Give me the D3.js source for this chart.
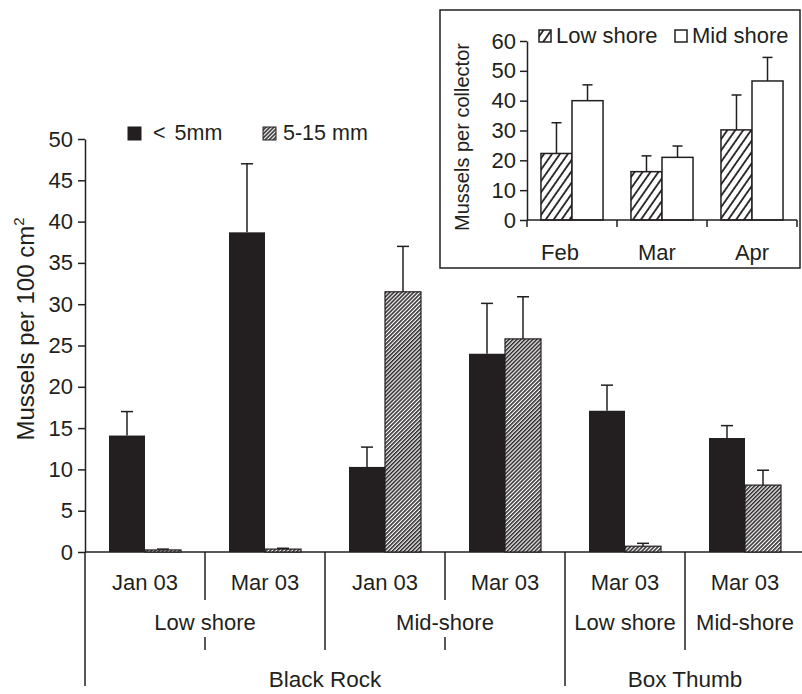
<!DOCTYPE html>
<html>
<head>
<meta charset="utf-8">
<script src="https://cdn.jsdelivr.net/npm/d3@7"></script>
<style>
  body { margin: 0; background: #fff; }
  svg text { font-family: "Liberation Sans", Arial, Helvetica, sans-serif; fill: #231f20; }
</style>
</head>
<body>
<script>
/* main chart data */
var dates  = ["Jan 03", "Mar 03", "Jan 03", "Mar 03", "Mar 03", "Mar 03"]
var shores = ["Low shore", "Low shore", "Mid-shore", "Mid-shore", "Low shore", "Mid-shore"]
var sites  = ["Black Rock", "Black Rock", "Black Rock", "Black Rock", "Box Thumb", "Box Thumb"]
var smallMean = [14.1, 38.7, 10.3, 24.0, 17.1, 13.8]    // < 5mm
var smallSe   = [2.9, 8.3, 2.4, 6.1, 3.1, 1.5]
var largeMean = [0.25, 0.35, 31.5, 25.8, 0.7, 8.1]    // 5-15 mm
var largeSe   = [0.1, 0.1, 5.5, 5.1, 0.35, 1.8]
var mainTicks = [0, 5, 10, 15, 20, 25, 30, 35, 40, 45, 50]
var sizeClasses = ["< 5mm", "5-15 mm"]

/* inset data */
var months  = ["Feb", "Mar", "Apr"]
var lowMean = [22.3, 16.2, 30.2]
var lowSe   = [10.3, 5.3, 11.7]
var midMean = [40.0, 21.0, 46.6]
var midSe   = [5.3, 3.8, 7.9]
var insetTicks = [0, 10, 20, 30, 40, 50, 60]
var shoreClasses = ["Low shore", "Mid shore"]

var ink = "#231f20"
var W = 802, H = 694

var svg = d3.select("body").append("svg")
    .attr("width", W)
    .attr("height", H)

var defs = svg.append("defs")
defs.append("pattern")
    .attr("id", "fine")
    .attr("width", 2.8).attr("height", 2.8)
    .attr("patternUnits", "userSpaceOnUse")
    .attr("patternTransform", "rotate(45)")
  .call(function(p) {
      p.append("rect").attr("width", 2.8).attr("height", 2.8).attr("fill", "#fff")
      p.append("line").attr("x1", 0.8).attr("x2", 0.8).attr("y1", 0).attr("y2", 2.8)
          .attr("stroke", ink).attr("stroke-width", 1.5)
  })
defs.append("pattern")
    .attr("id", "coarse")
    .attr("width", 6.5).attr("height", 6.5)
    .attr("patternUnits", "userSpaceOnUse")
    .attr("patternTransform", "rotate(35)")
  .call(function(p) {
      p.append("rect").attr("width", 6.5).attr("height", 6.5).attr("fill", "#fff")
      p.append("line").attr("x1", 1).attr("x2", 1).attr("y1", 0).attr("y2", 6.5)
          .attr("stroke", ink).attr("stroke-width", 1.8)
  })

/* ---------- main chart ---------- */
var idx = d3.range(dates.length)
var x = d3.scaleBand().domain(idx).range([85, 805])
var xs = d3.scaleBand().domain([0, 1]).range([0, x.bandwidth()]).paddingOuter(0.667)
var y = d3.scaleLinear().domain([0, 50]).range([552, 139])
var fills = [ink, "url(#fine)"]

var yAxis = d3.axisLeft(y).tickValues(mainTicks).tickSize(7).tickSizeOuter(0).tickPadding(5)
var ya = svg.append("g").attr("transform", "translate(85,0)").call(yAxis)
ya.selectAll("path, line").attr("stroke", ink).attr("stroke-width", 1.5)
ya.selectAll("text").attr("font-size", "22px").attr("fill", ink).attr("font-family", null)

/* axis lines */
svg.append("line").attr("x1", 85).attr("x2", 802).attr("y1", y(0)).attr("y2", y(0))
    .attr("stroke", ink).attr("stroke-width", 1.5)

/* group dividers */
idx.forEach(function(i) {
    var xx = x(i)
    var segs
    if (i == 0 || sites[i] != sites[i - 1]) segs = [[552, 686]]
    else if (shores[i] != shores[i - 1]) segs = [[552, 650]]
    else segs = [[552, 600], [637, 650]]
    segs.forEach(function(s) {
        svg.append("line").attr("x1", xx).attr("x2", xx).attr("y1", s[0]).attr("y2", s[1])
            .attr("stroke", ink).attr("stroke-width", 1.5)
    })
})

var series = [
    {mean: smallMean, se: smallSe},
    {mean: largeMean, se: largeSe}
]
series.forEach(function(s, k) {
    var g = svg.append("g")
    g.selectAll("line.err")
        .data(idx).enter().append("line")
        .attr("x1", function(i) { return x(i) + xs(k) + xs.bandwidth() / 2 })
        .attr("x2", function(i) { return x(i) + xs(k) + xs.bandwidth() / 2 })
        .attr("y1", function(i) { return y(s.mean[i]) })
        .attr("y2", function(i) { return y(s.mean[i] + s.se[i]) })
        .attr("stroke", ink).attr("stroke-width", 1.5)
    g.selectAll("line.cap")
        .data(idx).enter().append("line")
        .attr("x1", function(i) { return x(i) + xs(k) + xs.bandwidth() / 2 - 6 })
        .attr("x2", function(i) { return x(i) + xs(k) + xs.bandwidth() / 2 + 6 })
        .attr("y1", function(i) { return y(s.mean[i] + s.se[i]) })
        .attr("y2", function(i) { return y(s.mean[i] + s.se[i]) })
        .attr("stroke", ink).attr("stroke-width", 1.5)
    g.selectAll("rect")
        .data(idx).enter().append("rect")
        .attr("x", function(i) { return x(i) + xs(k) })
        .attr("y", function(i) { return y(s.mean[i]) })
        .attr("width", xs.bandwidth())
        .attr("height", function(i) { return y(0) - y(s.mean[i]) })
        .attr("fill", fills[k])
        .attr("stroke", k == 1 ? ink : "none")
        .attr("stroke-width", 1.2)
})

/* category labels */
svg.selectAll("text.date")
    .data(idx).enter().append("text")
    .attr("x", function(i) { return x(i) + x.bandwidth() / 2 })
    .attr("y", 590)
    .attr("text-anchor", "middle")
    .attr("font-size", "22px")
    .text(function(i) { return dates[i] })

function spans(arr) {
    var out = []
    arr.forEach(function(v, i) {
        var key = sites[i] + "|" + v
        if (out.length && out[out.length - 1].key == key) out[out.length - 1].end = i
        else out.push({key: key, label: v, start: i, end: i})
    })
    return out
}
svg.selectAll("text.shore")
    .data(spans(shores)).enter().append("text")
    .attr("x", function(d) { return (x(d.start) + x(d.end) + x.bandwidth()) / 2 })
    .attr("y", 630)
    .attr("text-anchor", "middle")
    .attr("font-size", "22px")
    .text(function(d) { return d.label })
svg.selectAll("text.site")
    .data(spans(sites)).enter().append("text")
    .attr("x", function(d) { return (x(d.start) + x(d.end) + x.bandwidth()) / 2 })
    .attr("y", 687)
    .attr("text-anchor", "middle")
    .attr("font-size", "22.5px")
    .text(function(d) { return d.label })

/* y title */
var yt = svg.append("text")
    .attr("transform", "translate(34,329) rotate(-90)")
    .attr("text-anchor", "middle")
    .attr("font-size", "24px")
yt.append("tspan").text("Mussels per 100 cm")
yt.append("tspan").attr("font-size", "15px").attr("dy", -10).text("2")

/* legend */
var legX = [128, 263]
sizeClasses.forEach(function(name, k) {
    svg.append("rect").attr("x", legX[k]).attr("y", 127).attr("width", 13).attr("height", 13)
        .attr("fill", fills[k]).attr("stroke", ink).attr("stroke-width", 1)
    svg.append("text").attr("x", legX[k] + (k == 0 ? 25 : 20)).attr("y", 140)
        .attr("font-size", "21.5px")
        .attr("word-spacing", k == 0 ? "3px" : "0px")
        .text(name)
})

/* ---------- inset ---------- */
svg.append("rect").attr("x", 440).attr("y", 10).attr("width", 360).attr("height", 258)
    .attr("fill", "#fff").attr("stroke", ink).attr("stroke-width", 1.5)

var ix = d3.scaleBand().domain(months).range([527, 797])
var ixs = d3.scaleBand().domain([0, 1]).range([0, ix.bandwidth()]).paddingOuter(0.45)
var iy = d3.scaleLinear().domain([0, 60]).range([220, 41])
var ifills = ["url(#coarse)", "#fff"]

var iyAxis = d3.axisLeft(iy).tickValues(insetTicks).tickSize(7).tickSizeOuter(0).tickPadding(4)
var iya = svg.append("g").attr("transform", "translate(527,0)").call(iyAxis)
iya.selectAll("path, line").attr("stroke", ink).attr("stroke-width", 1.5)
iya.selectAll("text").attr("font-size", "22px").attr("fill", ink).attr("font-family", null)
svg.append("line").attr("x1", 527).attr("x2", 527).attr("y1", 220).attr("y2", 227)
    .attr("stroke", ink).attr("stroke-width", 1.5)

var iseries = [
    {mean: lowMean, se: lowSe},
    {mean: midMean, se: midSe}
]
iseries.forEach(function(s, k) {
    var g = svg.append("g")
    g.selectAll("line.err")
        .data(months).enter().append("line")
        .attr("x1", function(m) { return ix(m) + ixs(k) + ixs.bandwidth() / 2 })
        .attr("x2", function(m) { return ix(m) + ixs(k) + ixs.bandwidth() / 2 })
        .attr("y1", function(m, i) { return iy(s.mean[i]) })
        .attr("y2", function(m, i) { return iy(s.mean[i] + s.se[i]) })
        .attr("stroke", ink).attr("stroke-width", 1.5)
    g.selectAll("line.cap")
        .data(months).enter().append("line")
        .attr("x1", function(m) { return ix(m) + ixs(k) + ixs.bandwidth() / 2 - 5 })
        .attr("x2", function(m) { return ix(m) + ixs(k) + ixs.bandwidth() / 2 + 5 })
        .attr("y1", function(m, i) { return iy(s.mean[i] + s.se[i]) })
        .attr("y2", function(m, i) { return iy(s.mean[i] + s.se[i]) })
        .attr("stroke", ink).attr("stroke-width", 1.5)
    g.selectAll("rect")
        .data(months).enter().append("rect")
        .attr("x", function(m) { return ix(m) + ixs(k) })
        .attr("y", function(m, i) { return iy(s.mean[i]) })
        .attr("width", ixs.bandwidth())
        .attr("height", function(m, i) { return iy(0) - iy(s.mean[i]) })
        .attr("fill", ifills[k])
        .attr("stroke", ink)
        .attr("stroke-width", 1.5)
})

svg.append("line").attr("x1", 527).attr("x2", 797).attr("y1", 220).attr("y2", 220)
    .attr("stroke", ink).attr("stroke-width", 1.5)
months.forEach(function(m) {
    var xe = ix(m) + ix.bandwidth()
    svg.append("line").attr("x1", xe).attr("x2", xe).attr("y1", 220).attr("y2", 227)
        .attr("stroke", ink).attr("stroke-width", 1.5)
})
svg.selectAll("text.month")
    .data(months).enter().append("text")
    .attr("x", function(m) { return ix(m) + ix.bandwidth() / 2 - (m == "Feb" ? 12 : (m == "Mar" ? 5 : 0)) })
    .attr("y", 260)
    .attr("text-anchor", "middle")
    .attr("font-size", "22px")
    .text(function(m) { return m })

svg.append("text")
    .attr("transform", "translate(469,137) rotate(-90)")
    .attr("text-anchor", "middle")
    .attr("font-size", "20px")
    .text("Mussels per collector")

var ilegX = [539, 675]
shoreClasses.forEach(function(name, k) {
    svg.append("rect").attr("x", ilegX[k]).attr("y", 30).attr("width", 12).attr("height", 12)
        .attr("fill", ifills[k]).attr("stroke", ink).attr("stroke-width", 1.5)
    svg.append("text").attr("x", ilegX[k] + 17).attr("y", 43)
        .attr("font-size", "22px")
        .text(name)
})
</script>
</body>
</html>
